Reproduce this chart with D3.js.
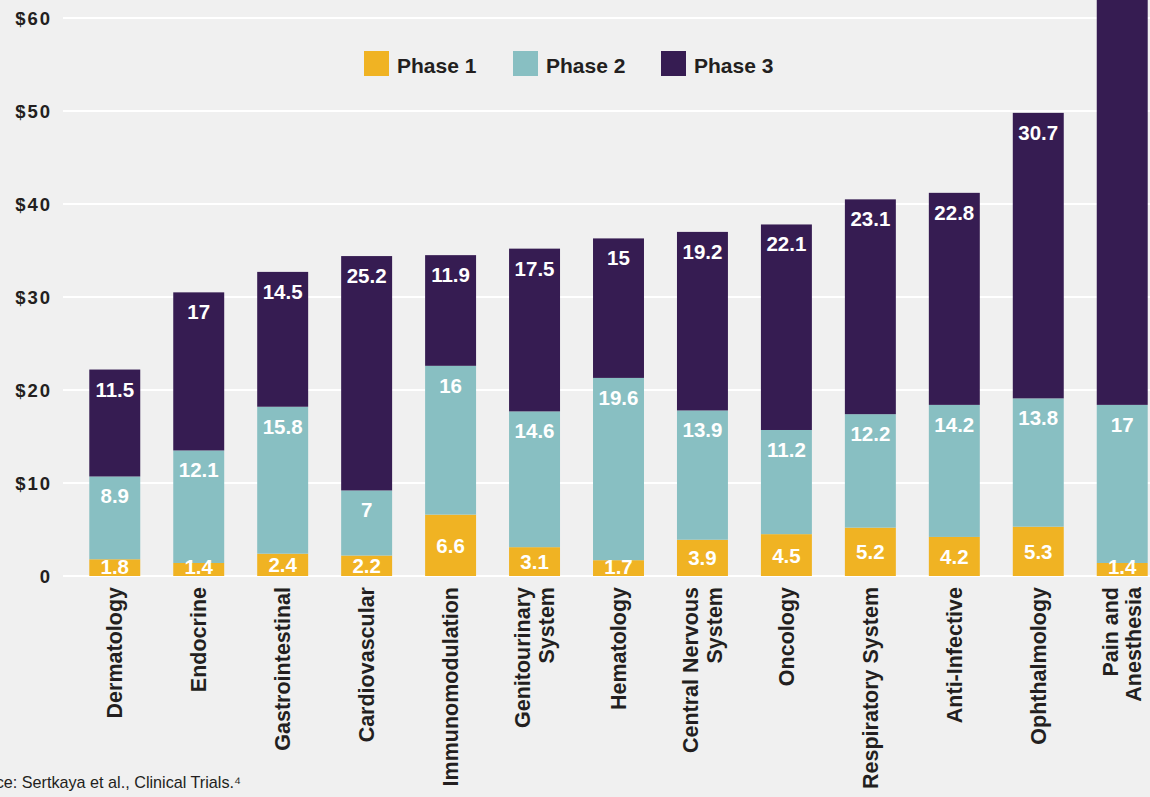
<!DOCTYPE html>
<html lang="en">
<head>
    <meta charset="UTF-8">
    <title>Clinical Trial Costs by Therapeutic Area</title>
    <script src="https://d3js.org/d3.v7.min.js"></script>
    <style>
        body {
            margin: 0;
            padding: 0;
            background-color: #f0f0f0;
            font-family: "Liberation Sans", Arial, sans-serif;
            overflow: hidden;
        }
        .tick-label {
            font-size: 18.5px;
            font-weight: bold;
            fill: #231f20;
            letter-spacing: 2px;
        }
        .cat-label {
            font-size: 21.5px;
            font-weight: bold;
            fill: #231f20;
        }
        .val-label {
            font-size: 20.5px;
            font-weight: bold;
            fill: #fff;
        }
        .legend-label {
            font-size: 21px;
            font-weight: bold;
            fill: #231f20;
        }
        .source {
            font-size: 16.2px;
            fill: #231f20;
        }
    </style>
</head>
<body>
<div id="chart"></div>
<script>
    // Therapeutic areas (line breaks as in the original labels)
    const categories = [
        ["Dermatology"], ["Endocrine"], ["Gastrointestinal"], ["Cardiovascular"],
        ["Immunomodulation"], ["Genitourinary", "System"], ["Hematology"],
        ["Central Nervous", "System"], ["Oncology"], ["Respiratory System"],
        ["Anti-Infective"], ["Ophthalmology"], ["Pain and", "Anesthesia"]
    ];

    // Cost per phase, $ millions
    const phase1 = [1.8, 1.4, 2.4, 2.2, 6.6, 3.1, 1.7, 3.9, 4.5, 5.2, 4.2, 5.3, 1.4];
    const phase2 = [8.9, 12.1, 15.8, 7, 16, 14.6, 19.6, 13.9, 11.2, 12.2, 14.2, 13.8, 17];
    const phase3 = [11.5, 17, 14.5, 25.2, 11.9, 17.5, 15, 19.2, 22.1, 23.1, 22.8, 30.7, 52.9];

    const seriesNames = ["Phase 1", "Phase 2", "Phase 3"];
    const colors = ["#f0b323", "#88bfc2", "#361c52"];
    const yTicks = [0, 10, 20, 30, 40, 50, 60];

    const W = 1150, H = 797;
    const svg = d3.select("#chart").append("svg")
        .attr("width", W)
        .attr("height", H);

    const keys = categories.map(c => c.join(" "));
    const rows = keys.map((k, i) => ({ key: k, "Phase 1": phase1[i], "Phase 2": phase2[i], "Phase 3": phase3[i] }));
    const stacked = d3.stack().keys(seriesNames)(rows);

    // scales
    const x = d3.scaleBand()
        .domain(keys)
        .range([72.5, 1164.5])
        .paddingInner(0.393)
        .paddingOuter(0.2);

    const y = d3.scaleLinear()
        .domain([0, 60])
        .range([576, 18]);

    // gridlines + y labels
    const yAxis = svg.append("g");
    yAxis.selectAll("line")
        .data(yTicks)
        .enter().append("line")
        .attr("x1", 63)
        .attr("x2", W)
        .attr("y1", d => y(d))
        .attr("y2", d => y(d))
        .attr("stroke", "#ffffff")
        .attr("stroke-width", 2);

    yAxis.selectAll("text")
        .data(yTicks)
        .enter().append("text")
        .attr("class", "tick-label")
        .attr("x", 52)
        .attr("y", d => y(d) + 6.5)
        .attr("text-anchor", "end")
        .text(d => d === 0 ? "0" : "$" + d);

    // bars
    svg.selectAll(".layer")
        .data(stacked)
        .enter().append("g")
        .attr("class", "layer")
        .attr("fill", (d, i) => colors[i])
        .selectAll("rect")
        .data(d => d)
        .enter().append("rect")
        .attr("x", d => x(d.data.key))
        .attr("y", d => y(d[1]))
        .attr("width", x.bandwidth())
        .attr("height", d => y(d[0]) - y(d[1]));

    // value labels, drawn after all bars
    // phase 1 centred, others near the top of the segment;
    // labels that would sit above the visible area are skipped
    const labelG = svg.append("g");
    stacked.forEach((layer, li) => {
        const vis = layer.filter(d => y(d[1]) + 27 > 25);
        labelG.selectAll(null)
            .data(vis)
            .enter().append("text")
            .attr("class", "val-label")
            .attr("text-anchor", "middle")
            .attr("x", d => x(d.data.key) + x.bandwidth() / 2)
            .attr("y", d => li === 0
                ? Math.min((y(d[0]) + y(d[1])) / 2 + 7.5, 573.5)
                : y(d[1]) + 27)
            .text(d => +(d[1] - d[0]).toFixed(1));
    });

    // category labels (rotated)
    const catG = svg.append("g");
    categories.forEach((lines, i) => {
        const cx = x(keys[i]) + x.bandwidth() / 2;
        lines.forEach((line, j) => {
            const off = (j - (lines.length - 1) / 2) * 23.5;
            catG.append("text")
                .attr("class", "cat-label")
                .attr("text-anchor", "end")
                .attr("transform", `translate(${cx + off + 7.5},587) rotate(-90)`)
                .text(line);
        });
    });

    // legend
    const legendX = [364, 513, 661];
    const legend = svg.append("g");
    seriesNames.forEach((name, i) => {
        legend.append("rect")
            .attr("x", legendX[i])
            .attr("y", 51)
            .attr("width", 25)
            .attr("height", 25)
            .attr("fill", colors[i]);
        legend.append("text")
            .attr("class", "legend-label")
            .attr("x", legendX[i] + 33)
            .attr("y", 73)
            .text(name);
    });

    // source note (cropped at the left edge as in the original)
    svg.append("text")
        .attr("class", "source")
        .attr("x", 241)
        .attr("y", 788)
        .attr("text-anchor", "end")
        .text("Source: Sertkaya et al., Clinical Trials.\u2074");
</script>
</body>
</html>
